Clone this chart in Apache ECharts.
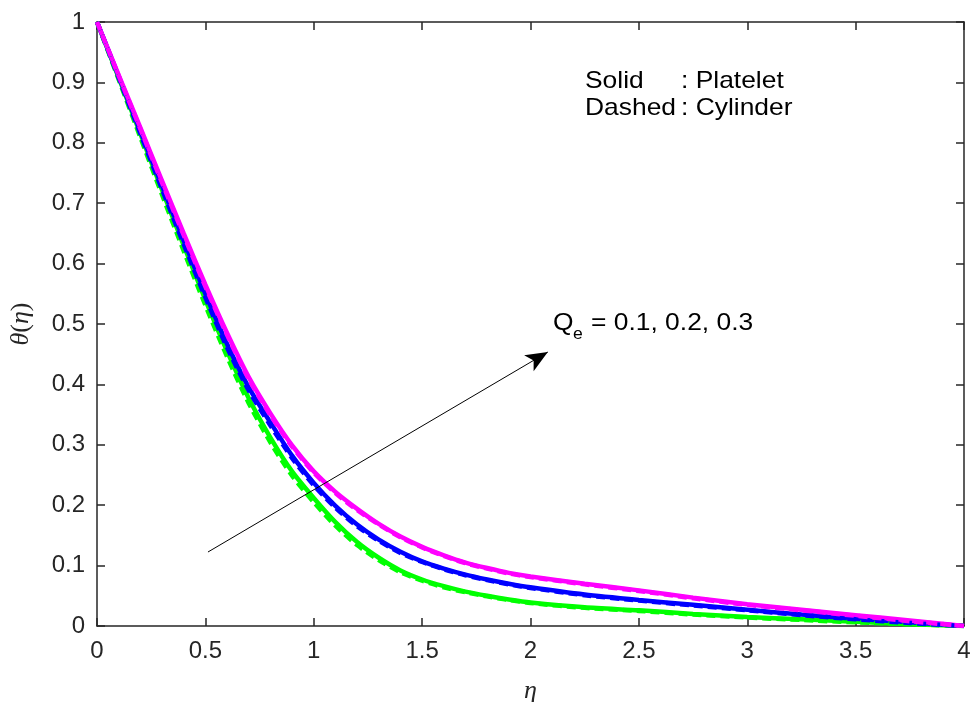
<!DOCTYPE html>
<html>
<head>
<meta charset="utf-8">
<script src="https://cdn.jsdelivr.net/npm/echarts@6/dist/echarts.min.js"></script>
<style>html,body{margin:0;padding:0;background:#fff}#c{width:974px;height:702px}</style>
</head>
<body>
<div id="c"></div>
<script>
var eta = [0, 0.1, 0.2, 0.3, 0.4, 0.5, 0.6, 0.7, 0.8, 0.9, 1.0, 1.1, 1.2, 1.3, 1.4, 1.5, 1.6, 1.7, 1.8, 1.9, 2.0, 2.25, 2.5, 2.75, 3.0, 3.25, 3.5, 3.75, 4.0];
var platelet01 = [1, 0.908, 0.815, 0.722, 0.630, 0.540, 0.455, 0.377, 0.312, 0.256, 0.212, 0.172, 0.139, 0.113, 0.092, 0.077, 0.066, 0.057, 0.050, 0.044, 0.039, 0.031, 0.026, 0.020, 0.015, 0.011, 0.007, 0.003, 0];
var platelet02 = [1, 0.910, 0.819, 0.728, 0.638, 0.550, 0.467, 0.395, 0.337, 0.282, 0.237, 0.199, 0.168, 0.143, 0.123, 0.107, 0.095, 0.085, 0.077, 0.070, 0.064, 0.052, 0.043, 0.035, 0.027, 0.019, 0.012, 0.006, 0];
var platelet03 = [1, 0.912, 0.825, 0.737, 0.650, 0.565, 0.485, 0.412, 0.352, 0.299, 0.256, 0.222, 0.194, 0.169, 0.148, 0.131, 0.117, 0.105, 0.096, 0.088, 0.082, 0.070, 0.059, 0.047, 0.036, 0.027, 0.018, 0.009, 0];
var cylinder01 = [1, 0.905, 0.809, 0.714, 0.621, 0.531, 0.446, 0.369, 0.304, 0.249, 0.205, 0.166, 0.134, 0.109, 0.089, 0.075, 0.064, 0.056, 0.049, 0.043, 0.038, 0.030, 0.025, 0.019, 0.014, 0.010, 0.006, 0.003, 0];
var cylinder02 = [1, 0.908, 0.815, 0.723, 0.632, 0.544, 0.461, 0.390, 0.332, 0.278, 0.233, 0.196, 0.165, 0.141, 0.121, 0.106, 0.094, 0.084, 0.076, 0.069, 0.063, 0.051, 0.042, 0.034, 0.026, 0.018, 0.011, 0.005, 0];
var cylinder03 = [1, 0.911, 0.823, 0.734, 0.647, 0.562, 0.482, 0.409, 0.349, 0.297, 0.254, 0.220, 0.192, 0.168, 0.147, 0.130, 0.116, 0.104, 0.095, 0.087, 0.081, 0.069, 0.058, 0.046, 0.035, 0.026, 0.017, 0.008, 0];
var arrowStart = [0.512, 0.1225];
var arrowEnd = [2.08, 0.4536];

function pairs(ys) { return eta.map(function (x, i) { return [x, ys[i]]; }); }

var axisCol = '#262626';
var sans = 'Liberation Sans, Arial, Helvetica, sans-serif';
var serif = 'Liberation Serif, Times New Roman, serif';
var lblFont = { color: '#262626', fontSize: 24, fontFamily: sans };

function line(name, ys, color, dashed) {
  return {
    name: name, type: 'line', data: pairs(ys), smooth: 0.25, symbol: 'none',
    lineStyle: { color: color, width: 4.5, type: dashed ? [9, 5] : 'solid' },
    z: dashed ? 3 : 2
  };
}

var chart = echarts.init(document.getElementById('c'));
var series = [
  line('Platelet 0.1', platelet01, '#00ff00', false),
  line('Platelet 0.2', platelet02, '#0000ff', false),
  line('Platelet 0.3', platelet03, '#ff00ff', false),
  line('Cylinder 0.1', cylinder01, '#00ff00', true),
  line('Cylinder 0.2', cylinder02, '#0000ff', true),
  line('Cylinder 0.3', cylinder03, '#ff00ff', true)
];
series.push({
  type: 'line', data: [], symbol: 'none', silent: true,
  markLine: {
    silent: true, symbol: ['none', 'arrow'], symbolSize: [14, 22],
    label: { show: false },
    lineStyle: { color: '#000', width: 1, type: 'solid' },
    data: [[{ coord: arrowStart }, { coord: arrowEnd }]]
  }, z: 5
});

function boxAxis(pos, isX) {
  var a = {
    type: 'value', position: pos,
    axisLine: { show: true, onZero: false, lineStyle: { color: axisCol, width: 1.5 } },
    axisTick: { show: true, inside: true, length: 8, lineStyle: { color: axisCol, width: 1.5 } },
    axisLabel: { show: false }, splitLine: { show: false }
  };
  if (isX) { a.min = 0; a.max = 4; a.interval = 0.5; } else { a.min = 0; a.max = 1; a.interval = 0.1; }
  return a;
}

var xMain = boxAxis('bottom', true);
xMain.axisLabel = Object.assign({ show: true, margin: 13 }, lblFont);
xMain.name = '\u03B7'; xMain.nameLocation = 'middle'; xMain.nameGap = 52;
xMain.nameTextStyle = { fontSize: 26, fontStyle: 'italic', fontFamily: serif, color: '#262626' };

var yMain = boxAxis('left', false);
yMain.axisLabel = Object.assign({ show: true, margin: 12 }, lblFont);
yMain.name = '{i|\u03B8}{n|(}{i|\u03B7}{n|)}'; yMain.nameLocation = 'middle'; yMain.nameGap = 63; yMain.nameRotate = 90;
yMain.nameTextStyle = {
  color: '#262626',
  rich: {
    i: { fontSize: 26, fontStyle: 'italic', fontFamily: serif, color: '#262626' },
    n: { fontSize: 26, fontFamily: serif, color: '#262626' }
  }
};

function txt(s, x, y, size) {
  return { type: 'text', x: x, y: y, scaleX: 1.1, style: { text: s, font: size + 'px ' + sans, fill: '#000' }, z: 10 };
}

chart.setOption({
  animation: false,
  grid: { left: 97, right: 10, top: 22, bottom: 76, containLabel: false, outerBoundsMode: 'none' },
  xAxis: [xMain, boxAxis('top', true)],
  yAxis: [yMain, boxAxis('right', false)],
  series: series,
  graphic: [
    txt('Solid', 585, 69, 24),
    txt(': Platelet', 681, 69, 24),
    txt('Dashed', 585, 96, 24),
    txt(': Cylinder', 681, 96, 24),
    txt('Q', 553, 311, 24),
    txt('e', 573, 327, 16),
    txt('= 0.1, 0.2, 0.3', 591, 311, 24)
  ]
});
</script>
</body>
</html>
